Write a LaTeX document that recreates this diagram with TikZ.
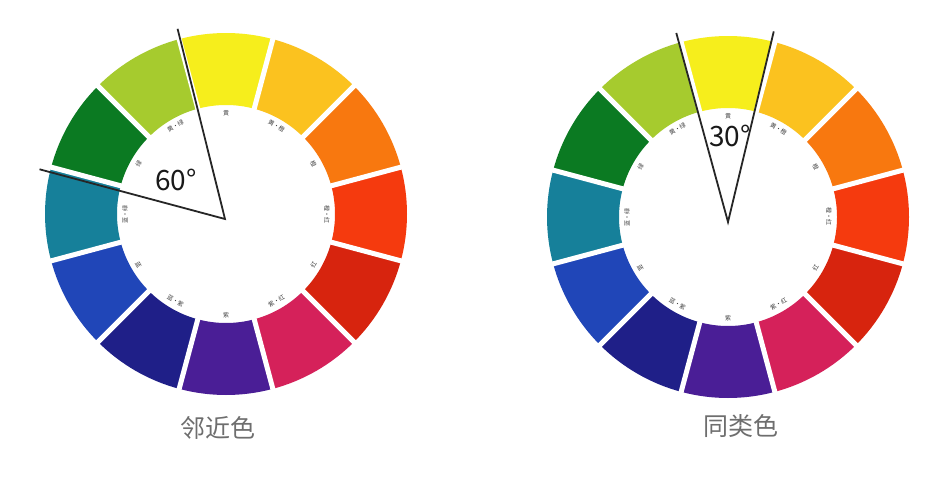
\documentclass[tikz,border=0pt]{standalone}
\usepackage{fontspec}
\newfontfamily\cjk{Noto Sans CJK SC}
\definecolor{cY}{HTML}{F6EE1C}
\definecolor{cYO}{HTML}{FBC21F}
\definecolor{cO}{HTML}{F8780F}
\definecolor{cRO}{HTML}{F53A0E}
\definecolor{cR}{HTML}{D7240E}
\definecolor{cM}{HTML}{D5215A}
\definecolor{cP}{HTML}{4A1E96}
\definecolor{cBP}{HTML}{1F1F88}
\definecolor{cB}{HTML}{2046B8}
\definecolor{cT}{HTML}{16809A}
\definecolor{cG}{HTML}{0B7A22}
\definecolor{cYG}{HTML}{A6CB2E}
\definecolor{capgray}{HTML}{6E6E6E}
\tikzset{
  seglabel/.style={font=\cjk\fontsize{6}{6}\selectfont, text=black!75, inner sep=0pt},
  anglabel/.style={font=\cjk\fontsize{28}{28}\selectfont, text=black!90, inner sep=0pt},
  caption/.style={font=\cjk\fontsize{25}{25}\selectfont, text=capgray, inner sep=0pt},
  ray/.style={line width=1.8pt, draw=black!85},
  gap/.style={line width=5pt, draw=white}
}
\newcommand\colorwheel[1]{%
  \foreach \col/\lab [count=\i from 0] in {cY/黄, cYO/黄·橙, cO/橙, cRO/橙·红, cR/红, cM/紫·红, cP/紫, cBP/蓝·紫, cB/蓝, cT/蓝·绿, cG/绿, cYG/黄·绿} {
    \pgfmathsetmacro\a{90-30*\i}
    \pgfmathsetmacro\rot{ifthenelse(and(\a<0,\a>-180),\a+90,\a-90)}
    \fill[\col] (\a-15:109) arc[start angle=\a-15, end angle=\a+15, radius=109]
      -- (\a+15:181) arc[start angle=\a+15, end angle=\a-15, radius=181] -- cycle;
    \node[seglabel, rotate=\rot] (#1lab\i) at (\a:101) {\lab};
  }
  \foreach \i in {0,...,11} {
    \draw[gap] (15+30*\i:104) -- (15+30*\i:186);
  }
}
\begin{document}
\begin{tikzpicture}[x=1pt,y=1pt]
\useasboundingbox[fill=white] (0,0) rectangle (944,480);
% left wheel
\begin{scope}[shift={(226,266)}]
  \colorwheel{L}
\end{scope}
% right wheel
\begin{scope}[shift={(728,263)}]
  \colorwheel{R}
\end{scope}
% left angle 60
\coordinate (apexL) at (225,261);
\path (apexL) ++(104:196) coordinate (endL1);
\path (apexL) ++(165:192) coordinate (endL2);
\draw[ray] (endL1) -- (apexL) -- (endL2);
\node[anglabel] (ang60) at (176,300) {60°};
% right angle 30
\coordinate (apexR) at (728,258);
\path (apexR) ++(105.3:196) coordinate (endR1);
\path (apexR) ++(76.5:196) coordinate (endR2);
\draw[ray] (endR1) -- (apexR) -- (endR2);
\node[anglabel] (ang30) at (730,344) {30°};
% captions
\node[caption] (capL) at (218,52) {邻近色};
\node[caption] (capR) at (741,54) {同类色};
\end{tikzpicture}
\end{document}
